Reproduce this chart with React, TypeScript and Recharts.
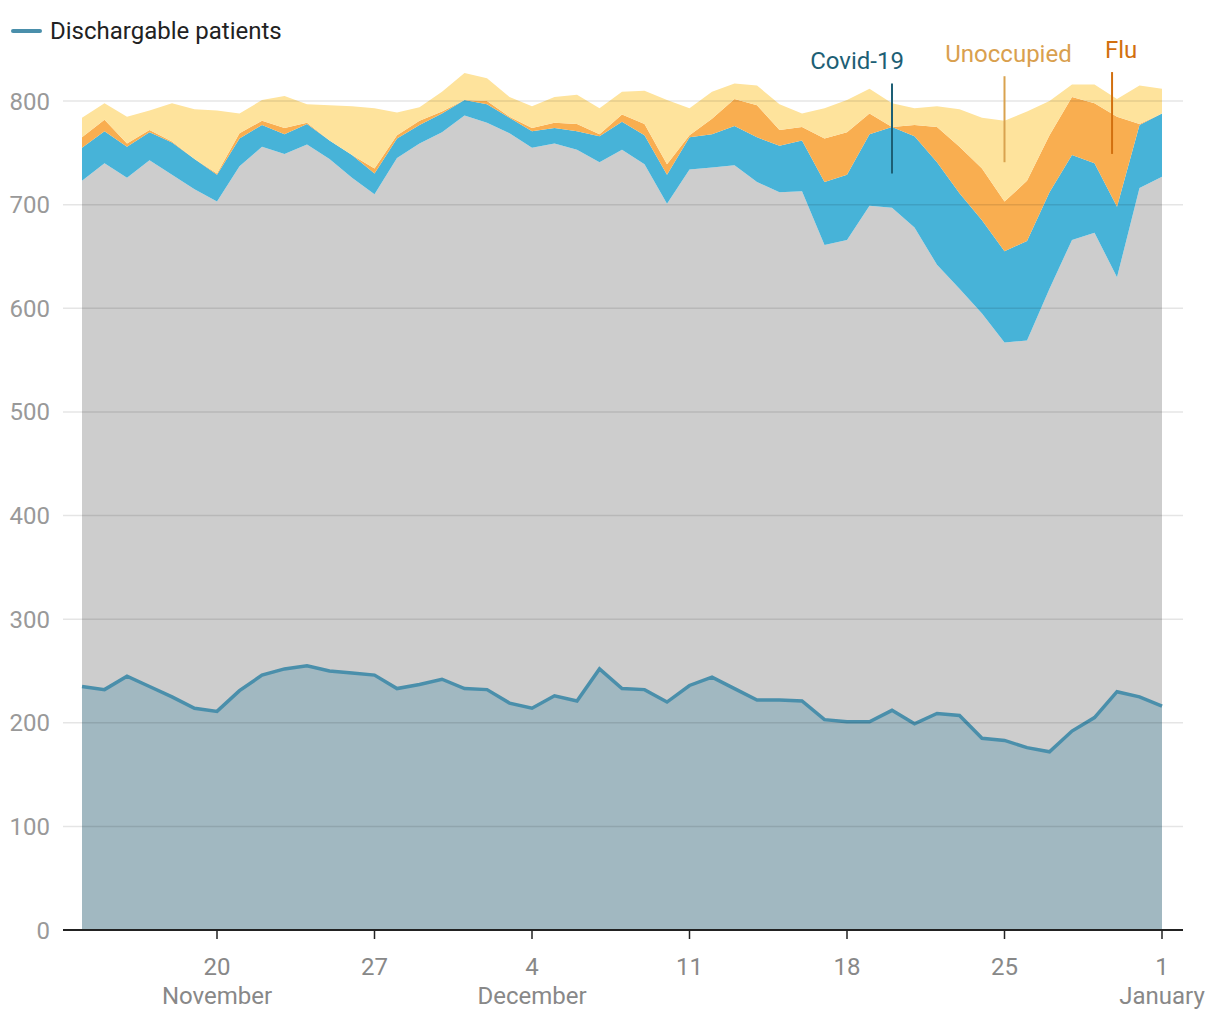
import React from 'react';
import { ComposedChart, Area, XAxis, YAxis, CartesianGrid, ReferenceLine } from 'recharts';

const dates = [
  'Nov 14', 'Nov 15', 'Nov 16', 'Nov 17', 'Nov 18', 'Nov 19', 'Nov 20', 'Nov 21', 'Nov 22', 'Nov 23',
  'Nov 24', 'Nov 25', 'Nov 26', 'Nov 27', 'Nov 28', 'Nov 29', 'Nov 30', 'Dec 1', 'Dec 2', 'Dec 3',
  'Dec 4', 'Dec 5', 'Dec 6', 'Dec 7', 'Dec 8', 'Dec 9', 'Dec 10', 'Dec 11', 'Dec 12', 'Dec 13',
  'Dec 14', 'Dec 15', 'Dec 16', 'Dec 17', 'Dec 18', 'Dec 19', 'Dec 20', 'Dec 21', 'Dec 22', 'Dec 23',
  'Dec 24', 'Dec 25', 'Dec 26', 'Dec 27', 'Dec 28', 'Dec 29', 'Dec 30', 'Dec 31', 'Jan 1',
];

// occupied by other patients (bottom gray layer)
const others = [723, 740, 726, 743, 729, 715, 703, 737, 756, 749, 758, 744, 726, 710, 745, 759, 770, 786, 779, 769, 755, 759, 753, 741, 753, 739, 701, 734, 736, 738, 722, 712, 713, 661, 666, 699, 697, 678, 642, 619, 595, 567, 569, 619, 666, 673, 630, 716, 727];
const covid = [32, 31, 30, 27, 31, 29, 26, 27, 21, 19, 20, 18, 22, 20, 19, 18, 18, 15, 18, 15, 16, 15, 18, 25, 27, 28, 28, 31, 32, 38, 43, 45, 49, 61, 63, 69, 78, 88, 99, 92, 90, 88, 96, 93, 82, 67, 68, 61, 61];
const flu = [10, 11, 3, 2, 1, 0, 1, 5, 4, 6, 1, 0, 0, 5, 3, 4, 2, 0, 3, 1, 3, 5, 7, 2, 7, 11, 10, 2, 15, 26, 31, 15, 13, 42, 41, 20, 0, 11, 34, 45, 50, 48, 58, 55, 56, 58, 87, 1, 0];
const unoccupied = [19, 16, 26, 19, 37, 48, 61, 19, 20, 31, 18, 34, 47, 58, 22, 13, 19, 26, 22, 19, 21, 25, 28, 25, 22, 32, 62, 26, 26, 15, 19, 25, 13, 29, 31, 24, 23, 16, 20, 36, 49, 78, 67, 33, 12, 18, 17, 37, 24];
const dischargable = [235, 232, 245, 235, 225, 214, 211, 231, 246, 252, 255, 250, 248, 246, 233, 237, 242, 233, 232, 219, 214, 226, 221, 252, 233, 232, 220, 236, 244, 233, 222, 222, 221, 203, 201, 201, 212, 199, 209, 207, 185, 183, 176, 172, 192, 205, 230, 225, 216];

const xTickIndex = [6, 13, 20, 27, 34, 41, 48];
const xTickDay = ['20', '27', '4', '11', '18', '25', '1'];
const xTickMonth = ['November', '', 'December', '', '', '', 'January'];
const yTicks = [0, 100, 200, 300, 400, 500, 600, 700, 800];

const data = dates.map((d, i) => ({
  i,
  date: d,
  others: others[i],
  covid: covid[i],
  flu: flu[i],
  unoccupied: unoccupied[i],
  dischargable: dischargable[i],
}));

const FONT = 'Roboto, "Noto Sans", sans-serif';

const XTick = (props: any) => {
  const { x, y, payload } = props;
  const k = xTickIndex.indexOf(payload.value);
  return (
    <g>
      <text x={x} y={y + 34} textAnchor="middle" fill="#888" fontSize={24} fontFamily={FONT}>
        {xTickDay[k]}
      </text>
      {xTickMonth[k] ? (
        <text x={x} y={y + 63} textAnchor="middle" fill="#888" fontSize={24} fontFamily={FONT}>
          {xTickMonth[k]}
        </text>
      ) : null}
    </g>
  );
};

const makeLabel = (text: string, color: string, dx: number) => (p: any) => {
  const vb = p.viewBox || {};
  return (
    <text
      x={(vb.x ?? 0) + dx}
      y={(vb.y ?? 0) - 14}
      textAnchor="middle"
      fill={color}
      fontSize={24}
      fontFamily={FONT}
    >
      {text}
    </text>
  );
};

export default function App() {
  return (
    <div style={{ position: 'absolute', left: 0, top: 0, width: 1220, height: 1020, background: '#fff' }}>
      <div
        style={{
          position: 'absolute',
          left: 10,
          top: 17,
          display: 'flex',
          alignItems: 'center',
          fontFamily: FONT,
          fontSize: 24,
          color: '#222',
        }}
      >
        <svg width={34} height={10} style={{ marginRight: 6 }}>
          <line x1={3} y1={5} x2={30} y2={5} stroke="#4a8fab" strokeWidth={4} strokeLinecap="round" />
        </svg>
        <span>Dischargable patients</span>
      </div>
      <ComposedChart
        width={1220}
        height={1020}
        data={data}
        margin={{ top: 70, right: 37, bottom: 0, left: 10 }}
      >
        <XAxis
          dataKey="i"
          type="number"
          domain={[0, 48]}
          ticks={xTickIndex}
          padding={{ left: 19, right: 21 }}
          height={90}
          axisLine={{ stroke: '#222', strokeWidth: 2 }}
          tickLine={{ stroke: '#222', strokeWidth: 1.5 }}
          tickSize={9}
          tick={<XTick />}
          interval={0}
        />
        <YAxis
          type="number"
          domain={[0, 830]}
          ticks={yTicks}
          width={53}
          axisLine={false}
          tickLine={false}
          tickSize={0}
          tickMargin={13}
          tick={{ fill: '#999', fontSize: 24, fontFamily: FONT }}
          interval={0}
        />
        <Area type="linear" dataKey="others" stackId="a" stroke="none" fill="#cdcdcd" fillOpacity={1} isAnimationActive={false} dot={false} activeDot={false} />
        <Area type="linear" dataKey="covid" stackId="a" stroke="none" fill="#47b3d8" fillOpacity={1} isAnimationActive={false} dot={false} activeDot={false} />
        <Area type="linear" dataKey="flu" stackId="a" stroke="none" fill="#f9ae50" fillOpacity={1} isAnimationActive={false} dot={false} activeDot={false} />
        <Area type="linear" dataKey="unoccupied" stackId="a" stroke="none" fill="#fee39c" fillOpacity={1} isAnimationActive={false} dot={false} activeDot={false} />
        <Area type="linear" dataKey="dischargable" stroke="#4a8fab" strokeWidth={3.5} fill="#4a8fab" fillOpacity={0.33} isAnimationActive={false} dot={false} activeDot={false} />
        <CartesianGrid vertical={false} horizontalValues={[100, 200, 300, 400, 500, 600, 700, 800]} stroke="#000" strokeOpacity={0.1} strokeWidth={1.5} zIndex={150} />
        <ReferenceLine
          segment={[{ x: 36, y: 817 }, { x: 36, y: 730 }]}
          stroke="#1d5f75"
          strokeWidth={2}
          ifOverflow="visible"
          label={makeLabel('Covid-19', '#1d5f75', -35)}
        />
        <ReferenceLine
          segment={[{ x: 41, y: 824 }, { x: 41, y: 741 }]}
          stroke="#d9a24f"
          strokeWidth={2}
          ifOverflow="visible"
          label={makeLabel('Unoccupied', '#d9a04e', 4)}
        />
        <ReferenceLine
          segment={[{ x: 45.78, y: 828 }, { x: 45.78, y: 749 }]}
          stroke="#d2700f"
          strokeWidth={2}
          ifOverflow="visible"
          label={makeLabel('Flu', '#d2700f', 9)}
        />
      </ComposedChart>
    </div>
  );
}
